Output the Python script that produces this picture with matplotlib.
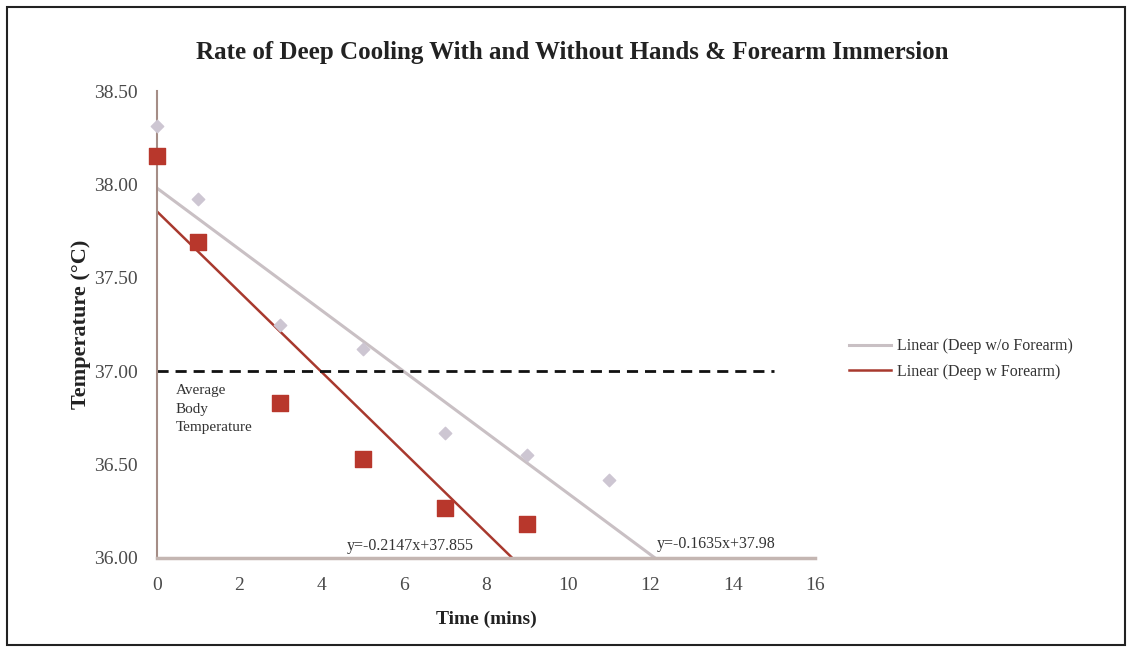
import matplotlib
matplotlib.use("Agg")
import matplotlib.pyplot as plt
from matplotlib.patches import Rectangle
import numpy as np

# ---- data ----
time_wo = [0, 1, 3, 5, 7, 9, 11]
temp_wo = [38.31, 37.92, 37.25, 37.12, 36.67, 36.55, 36.42]
time_w = [0, 1, 3, 5, 7, 9]
temp_w = [38.15, 37.69, 36.83, 36.53, 36.27, 36.18]
fit_wo = (-0.1635, 37.98)
fit_w = (-0.2147, 37.855)
avg_body_temp = 37.00
avg_line_x = [0, 15]
xticks = [0, 2, 4, 6, 8, 10, 12, 14, 16]
yticks = [36.00, 36.50, 37.00, 37.50, 38.00, 38.50]

plt.rcParams['font.family'] = ['Liberation Serif', 'DejaVu Serif']

fig = plt.figure(figsize=(11.32, 6.52), dpi=100)
ax = fig.add_axes([157/1132, 1-558/652, (815-157)/1132, (558-91)/652])

gray_c = '#c9c0c4'
red_c = '#a8392e'

xs = np.array([0, 16])
ax.plot(xs, fit_wo[0]*xs + fit_wo[1], color=gray_c, lw=2.2, label='Linear (Deep w/o Forearm)', zorder=2)
ax.plot(xs, fit_w[0]*xs + fit_w[1], color=red_c, lw=1.8, label='Linear (Deep w Forearm)', zorder=2)

ax.scatter(time_wo, temp_wo, marker='D', s=40, color='#cdc6d2', zorder=3, clip_on=False)
ax.scatter(time_w, temp_w, marker='s', s=120, color='#b8372c', zorder=4, clip_on=False)

ax.plot(avg_line_x, [avg_body_temp]*2, color='#111111', lw=2, ls=(0, (4, 2.5)), zorder=2, clip_on=False)

ax.text(0.45, 36.93, 'Average\nBody\nTemperature', fontsize=11, color='#333333', va='top', ha='left', linespacing=1.55)
ax.text(6.15, 36.02, 'y=-0.2147x+37.855', fontsize=11.5, color='#333333', ha='center', va='bottom')
ax.text(13.6, 36.03, 'y=-0.1635x+37.98', fontsize=11.5, color='#333333', ha='center', va='bottom')

ax.set_xlim(0, 16)
ax.set_ylim(36, 38.5)
ax.set_xticks(xticks)
ax.set_xticklabels([str(t) for t in xticks])
ax.set_yticks(yticks)
ax.set_yticklabels([f'{t:.2f}' for t in yticks])
ax.tick_params(length=0, labelsize=14, colors='#4a4a4a')
ax.tick_params(axis='x', pad=14)
ax.tick_params(axis='y', pad=14)
for s in ['top', 'right']:
    ax.spines[s].set_visible(False)
ax.spines['left'].set_color('#a58d86')
ax.spines['left'].set_linewidth(1.5)
ax.spines['bottom'].set_color('#c4b6b2')
ax.spines['bottom'].set_linewidth(2.5)

ax.set_xlabel('Time (mins)', fontsize=14, fontweight='bold', color='#222222', labelpad=12)
ax.set_ylabel('Temperature (\u00b0C)', fontsize=16, fontweight='bold', color='#222222', labelpad=2)
fig.text(572/1132, 1-52/652, 'Rate of Deep Cooling With and Without Hands & Forearm Immersion',
         fontsize=18, fontweight='bold', color='#222222', ha='center', va='center')

leg = fig.legend(loc='center left', bbox_to_anchor=(835/1132, 1-359/652), frameon=False,
                 fontsize=11.5, handlelength=2.6, handletextpad=0.4, labelspacing=0.6)
for t in leg.get_texts():
    t.set_color('#333333')

fig.patches.append(Rectangle((7/1132, 7/652), (1125-7)/1132, (645-7)/652, transform=fig.transFigure,
                             fill=False, edgecolor='#222222', lw=1.5))

fig.savefig('out.png', dpi=100)
